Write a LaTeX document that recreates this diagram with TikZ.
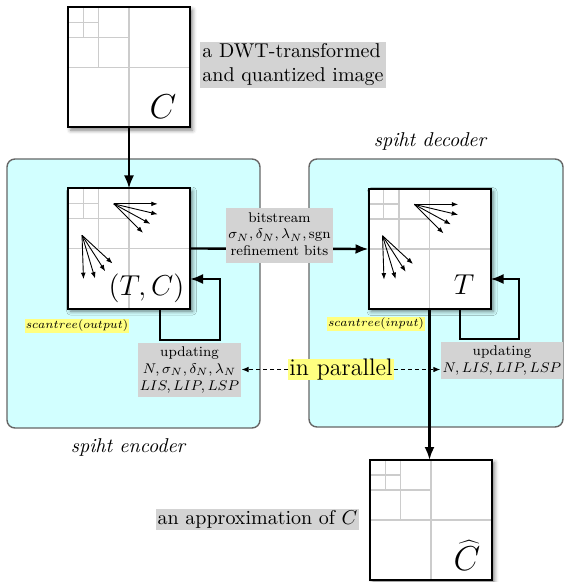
\documentclass[tikz,border=0pt]{standalone}
\usepackage{graphicx}
\usetikzlibrary{arrows.meta,shadows.blur}

\definecolor{panelcyan}{RGB}{210,255,255}
\definecolor{labelgray}{RGB}{211,211,211}
\definecolor{hiyellow}{RGB}{255,255,128}

\tikzset{
  panel/.style={draw=black!60, line width=0.7pt, fill=panelcyan,
    rounded corners=4pt, inner sep=0pt},
  gridline/.style={draw=black!20, line width=0.6pt},
  boxborder/.style={draw=black, line width=1pt},
  coeffbox/.style={fill=white, minimum width=61pt, minimum height=60pt,
    inner sep=0pt, outer sep=0pt,
    blur shadow={shadow xshift=1.3pt, shadow yshift=-1.3pt,
      shadow blur radius=2pt, shadow opacity=50}},
  conn/.style={line width=1.2pt, -{Latex[length=6.5pt,width=5pt]}},
  tree/.style={line width=0.45pt, -{Latex[length=3.2pt,width=2.4pt]}},
  link/.style={line width=0.5pt, dash pattern=on 2pt off 1.5pt,
    -{Latex[length=3.5pt,width=2.8pt]}},
  graylabel/.style={fill=labelgray, inner sep=1pt},
  yellowtag/.style={fill=hiyellow, inner sep=0.4pt},
  partag/.style={fill=hiyellow, inner xsep=0.5pt, inner ysep=0pt, font=\large},
  caption/.style={font=\itshape},
  bigsym/.style={font=\fontsize{15}{15}\selectfont, inner sep=0pt},
  hugesym/.style={font=\LARGE, inner sep=0pt}
}

% small stacked label text
\newcommand\smalltext[1]{\scalebox{0.88}{\footnotesize
  \begin{tabular}{@{}c@{}}#1\end{tabular}}}
% procedure name tag
\newcommand\tagtext[1]{\scalebox{0.84}{\scriptsize $#1$}}

% wavelet sub-band grid and frame of a coefficient box
\newcommand\subbands[1]{%
  \begin{scope}[shift={(#1.north west)}, x=61pt, y=-60pt]
    \draw[gridline] (0.5,0) -- (0.5,1) (0,0.5) -- (1,0.5)
      (0.25,0) -- (0.25,0.5) (0,0.25) -- (0.5,0.25)
      (0.125,0) -- (0.125,0.25) (0,0.125) -- (0.25,0.125);
    \draw[boxborder] (0,0) rectangle (1,1);
  \end{scope}}

% zero-tree arrows inside a coefficient box
\newcommand\treefans[1]{%
  \begin{scope}[shift={(#1.north west)}, x=61pt, y=-60pt]
    \draw[tree] (0.375,0.128) -- (0.735,0.128);
    \draw[tree] (0.375,0.128) -- (0.735,0.215);
    \draw[tree] (0.375,0.128) -- (0.675,0.295);
    \draw[tree] (0.375,0.128) -- (0.615,0.37);
    \draw[tree] (0.115,0.39) -- (0.365,0.625);
    \draw[tree] (0.115,0.39) -- (0.305,0.69);
    \draw[tree] (0.115,0.39) -- (0.222,0.75);
    \draw[tree] (0.115,0.39) -- (0.127,0.755);
  \end{scope}}

\begin{document}
\begin{tikzpicture}[x=0.5pt, y=-0.5pt]
  \useasboundingbox (0,0) rectangle (564,582);

  % encoder and decoder panels
  \node[panel, minimum width=126.5pt, minimum height=134.5pt] (encpanel) at (133.5,293.5) {};
  \node[panel, minimum width=127pt, minimum height=134pt] (decpanel) at (436,293) {};
  \node[caption] (encname) at (128,447) {spiht encoder};
  \node[caption] (decname) at (430,142) {spiht decoder};

  % coefficient images
  \node[coeffbox] (src) at (129,67.5) {};
  \node[coeffbox] (enc) at (129,248.5) {};
  \node[coeffbox] (dec) at (429.5,249) {};
  \node[coeffbox] (rec) at (431,520) {};
  \subbands{src}
  \subbands{enc}
  \subbands{dec}
  \subbands{rec}
  \treefans{enc}
  \treefans{dec}

  \node[hugesym] (srcsym) at (163,106.5) {$C$};
  \node[bigsym] (encsym) at (146.5,288) {$(T,C)$};
  \node[bigsym] (decsym) at (464,284.5) {$T$};
  \node[hugesym] (recsym) at (467,555) {$\widehat{C}$};

  % data flow
  \draw[conn] (src.south) -- (enc.north);
  \draw[conn] (enc.east) -- (dec.west);
  \draw[conn] (dec.south) -- (dec.south |- rec.north);

  % update loops
  \coordinate (eA) at (160,340);
  \coordinate (eB) at (220,279);
  \draw[conn] (enc.south -| eA) -- (eA) -| (eB) -- (enc.east |- eB);
  \coordinate (dA) at (460,339);
  \coordinate (dB) at (519,279);
  \draw[conn] (dec.south -| dA) -- (dA) -| (dB) -- (dec.east |- dB);

  % labels
  \node[graylabel, align=left] (dwt) at (293,65)
    {a DWT-transformed\\and quantized image};
  \node[graylabel] (bits) at (279.5,235.5)
    {\smalltext{bitstream\\$\sigma_N,\delta_N,\lambda_N,\mathrm{sgn}$\\refinement bits}};
  \node[graylabel] (updE) at (189.5,370)
    {\smalltext{updating\\$N,\sigma_N,\delta_N,\lambda_N$\\$LIS,LIP,LSP$}};
  \node[graylabel] (updD) at (502,360.5)
    {\smalltext{updating\\$N,LIS,LIP,LSP$}};
  \node[yellowtag] (scE) at (77,326) {\tagtext{scantree(output)}};
  \node[yellowtag] (scD) at (376,324) {\tagtext{scantree(input)}};
  \node[graylabel] (approx) at (257.5,519.5) {an approximation of $C$};

  \node[partag] (par) at (341,369.5) {in parallel};
  \draw[link] (par.west) -- (par.west -| updE.east);
  \draw[link] (par.east) -- (par.east -| updD.west);
\end{tikzpicture}
\end{document}
